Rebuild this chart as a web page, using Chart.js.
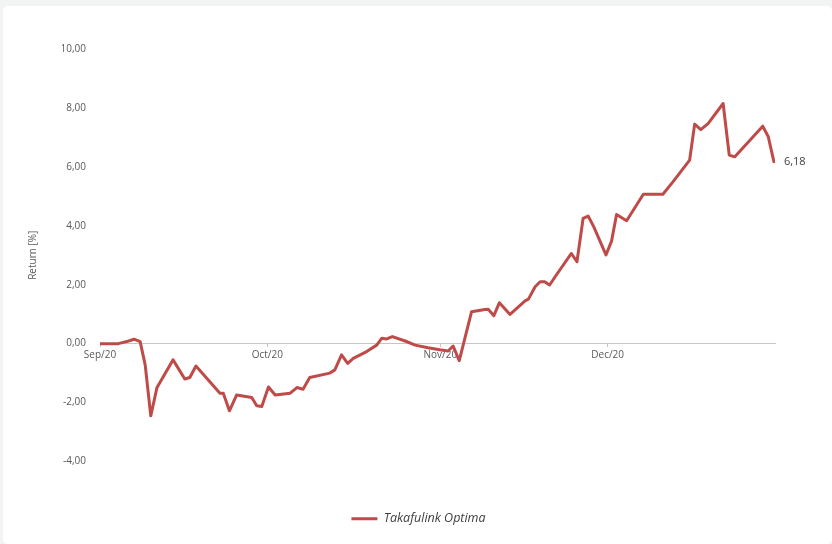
<!DOCTYPE html>
<html>
<head>
<meta charset="utf-8">
<script src="https://cdn.jsdelivr.net/npm/chart.js@4.4.1/dist/chart.umd.min.js"></script>
<style>
  html, body { margin: 0; padding: 0; background: #f2f3f3; width: 832px; height: 544px; overflow: hidden; }
  #card { position: absolute; left: 3px; top: 6px; width: 829px; height: 538px; background: #ffffff; border-radius: 5px; }
  #c { position: absolute; left: 0; top: 0; }
</style>
</head>
<body>
<div id="card"></div>
<canvas id="c" width="832" height="544"></canvas>
<script>
// Days counted from 1 Sep 2020
const days = [0.0, 3.3, 4.8, 6.1, 7.2, 8.1, 9.1, 10.2, 13.1, 15.2, 16.1, 17.2, 21.5, 22.1, 23.2, 24.5, 27.2, 28.1, 29.0,
  30.2, 31.4, 34.1, 35.3, 36.4, 37.6, 41.2, 42.1, 43.3, 44.4, 45.4, 47.8, 49.6, 50.5, 51.4, 52.4, 54.7, 56.5, 58.8,
  60.9, 62.4, 63.3, 64.4, 66.6, 69.0, 69.6, 70.6, 71.6, 73.5, 76.2, 76.8, 78.0, 78.9, 79.7, 80.6, 81.8, 84.5, 85.5,
  86.6, 87.5, 88.5, 90.7, 91.7, 92.6, 94.4, 97.4, 100.9, 102.7, 105.7, 106.6, 107.7, 109.0, 111.7, 112.8, 113.8,
  118.8, 119.8, 120.8];
const returns = [0.00, 0.00, 0.07, 0.15, 0.07, -0.72, -2.45, -1.50, -0.55, -1.20, -1.15, -0.76, -1.68, -1.68, -2.28, -1.74, -1.83, -2.11, -2.13,
  -1.47, -1.74, -1.68, -1.49, -1.55, -1.15, -1.00, -0.89, -0.38, -0.67, -0.50, -0.27, -0.05, 0.18, 0.16, 0.24, 0.09, -0.05, -0.14,
  -0.21, -0.25, -0.08, -0.58, 1.08, 1.16, 1.17, 0.95, 1.39, 0.99, 1.45, 1.51, 1.93, 2.10, 2.10, 1.99, 2.33, 3.06, 2.78,
  4.25, 4.33, 3.97, 3.01, 3.48, 4.38, 4.17, 5.07, 5.07, 5.49, 6.23, 7.45, 7.26, 7.47, 8.15, 6.40, 6.34,
  7.38, 7.02, 6.18];
const monthDays = [0, 30, 61, 91];
const monthLabels = ['Sep/20', 'Oct/20', 'Nov/20', 'Dec/20'];
const seriesName = 'Takafulink Optima';
const yTicks = [-4, -2, 0, 2, 4, 6, 8, 10];

const lineColor = '#BE4B48';
const textColor = '#595959';
const fmt = v => Number(v).toFixed(2).replace('.', ',');

const endLabel = {
  id: 'endLabel',
  afterDatasetsDraw(chart) {
    const meta = chart.getDatasetMeta(0);
    const last = meta.data[meta.data.length - 1];
    const ctx = chart.ctx;
    ctx.save();
    ctx.font = '11px "Open Sans", sans-serif';
    ctx.fillStyle = '#404040';
    ctx.textAlign = 'left';
    ctx.textBaseline = 'middle';
    ctx.fillText(fmt(returns[returns.length - 1]), last.x + 10, last.y);
    ctx.restore();
  }
};

new Chart(document.getElementById('c'), {
  type: 'line',
  data: {
    datasets: [{
      label: seriesName,
      data: days.map((d, i) => ({ x: d, y: returns[i] })),
      borderColor: lineColor,
      backgroundColor: lineColor,
      borderWidth: 3,
      pointRadius: 0,
      tension: 0,
      borderJoinStyle: 'round',
      borderCapStyle: 'round'
    }]
  },
  options: {
    responsive: false,
    animation: false,
    devicePixelRatio: 1,
    layout: { padding: { left: 62, right: 57, top: 49, bottom: 9 } },
    scales: {
      x: {
        type: 'linear',
        position: { y: 0 },
        min: 0,
        max: 121,
        afterFit: s => { s.height = 0; },
        afterBuildTicks: s => { s.ticks = monthDays.map(v => ({ value: v })); },
        ticks: {
          autoSkip: false,
          maxRotation: 0,
          padding: 3,
          color: textColor,
          font: { family: '"Open Sans", sans-serif', size: 10 },
          callback: v => monthLabels[monthDays.indexOf(v)]
        },
        grid: { display: true, drawOnChartArea: false, drawTicks: true, tickLength: 3, color: '#c6c6c6' },
        border: { display: true, color: '#c6c6c6', width: 1 }
      },
      y: {
        min: -4,
        max: 10,
        afterFit: s => { s.width = 38; },
        afterBuildTicks: s => { s.ticks = yTicks.map(v => ({ value: v })); },
        ticks: {
          padding: 14,
          color: textColor,
          font: { family: '"Open Sans", sans-serif', size: 10 },
          callback: v => fmt(v)
        },
        grid: { display: false, drawTicks: false },
        border: { display: false },
        title: {
          display: true,
          text: 'Return [%]',
          color: textColor,
          font: { family: '"Open Sans", sans-serif', size: 10 },
          padding: { top: -35, bottom: 0 }
        }
      }
    },
    plugins: {
      legend: {
        position: 'bottom',
        align: 'center',
        fullSize: true,
        labels: {
          boxWidth: 26,
          boxHeight: 3,
          padding: 51,
          color: '#404040',
          font: { family: '"Open Sans", sans-serif', size: 12.5, style: 'italic' },
          generateLabels: chart => {
            const items = Chart.defaults.plugins.legend.labels.generateLabels(chart);
            items.forEach(it => { it.lineWidth = 0; it.fillStyle = lineColor; });
            return items;
          }
        }
      },
      tooltip: { enabled: false }
    }
  },
  plugins: [endLabel]
});
</script>
</body>
</html>
